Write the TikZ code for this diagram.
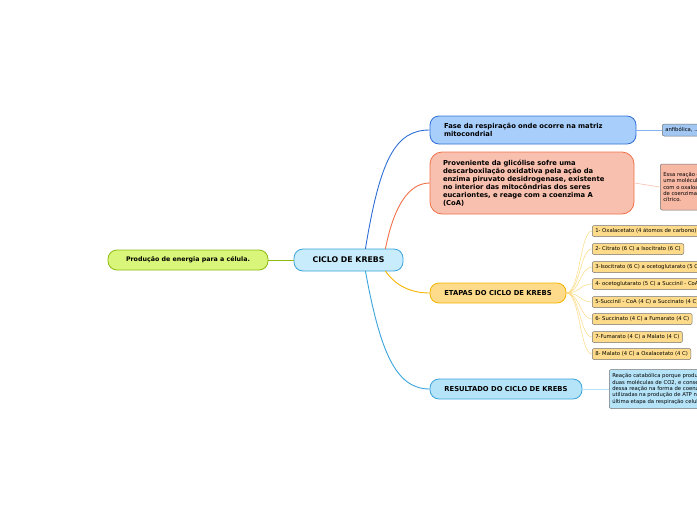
\documentclass[tikz,border=0pt]{standalone}
\usepackage{fontspec}
\setmainfont{DejaVu Sans}
\begin{document}
\begin{tikzpicture}[x=1pt,y=-1pt,
 big/.style={rounded corners=9pt,line width=0.8pt,font=\bfseries\fontsize{6.8}{8}\selectfont,inner sep=0pt},
 leaf/.style={rounded corners=2pt,draw=black!55,line width=0.5pt,anchor=west,font=\fontsize{5.3}{6.4}\selectfont,inner xsep=3pt,inner ysep=0pt,minimum height=11pt,align=left}]
\useasboundingbox (0,0) rectangle (697,520);
\clip (0,0) rectangle (697,520);
\definecolor{gfill}{HTML}{D9F57A}\definecolor{gdraw}{HTML}{8CBA10}
\definecolor{cfill}{HTML}{C8ECFC}\definecolor{cdraw}{HTML}{3AA3DB}
\definecolor{bfill}{HTML}{A8CFFC}\definecolor{bdraw}{HTML}{2F6FD6}
\definecolor{sfill}{HTML}{F8C0AE}\definecolor{sdraw}{HTML}{F07048}
\definecolor{yfill}{HTML}{FDDB8A}\definecolor{ydraw}{HTML}{F5B400}
\definecolor{rfill}{HTML}{B5E3F8}
\node[big,fill=gfill,draw=gdraw,minimum width=160pt,minimum height=20pt,font=\bfseries\fontsize{6.3}{7}\selectfont] (prod) at (188,260) {Produção de energia para a célula.};
\node[big,fill=cfill,draw=cdraw,minimum width=109pt,minimum height=22pt,font=\bfseries\fontsize{7.8}{8}\selectfont] (ck) at (348.5,260) {CICLO DE KREBS};
\node[big,fill=bfill,draw=bdraw,minimum width=206pt,minimum height=28pt,align=left,text width=178pt] (fase) at (533,130) {Fase da respiração onde ocorre na matriz\\mitocondrial};
\node[big,fill=sfill,draw=sdraw,minimum width=204pt,minimum height=62pt,align=left,text width=178pt,rounded corners=12pt] (prov) at (532,183) {Proveniente da glicólise sofre uma\\descarboxilação oxidativa pela ação da\\enzima piruvato desidrogenase, existente\\no interior das mitocôndrias dos seres\\eucariontes, e reage com a coenzima A\\(CoA)};
\node[big,fill=yfill,draw=ydraw,minimum width=136pt,minimum height=20pt] (et) at (498,293) {ETAPAS DO CICLO DE KREBS};
\node[big,fill=rfill,draw=cdraw,minimum width=152pt,minimum height=20pt] (res) at (506,389) {RESULTADO DO CICLO DE KREBS};
\draw[gdraw,line width=0.8pt] (prod.east) -- (ck.west);
\draw[bdraw,line width=0.9pt] (ck.east) ++(-38,-11) .. controls (380,160) and (395,130) .. (fase.west);
\draw[sdraw,line width=0.9pt] (ck.east) ++(-18,-11) .. controls (392,215) and (405,183) .. (prov.west);
\draw[ydraw,line width=0.9pt] (ck.east) ++(-18,11) .. controls (395,285) and (410,293) .. (et.west);
\draw[cdraw,line width=0.9pt] (ck.east) ++(-38,11) .. controls (380,350) and (395,389) .. (res.west);
\node[leaf,fill=bfill!80!black!20!bfill,minimum height=12pt] (anf) at (662,130) {anfibólica, ...};
\draw[bfill!70!bdraw,line width=0.6pt] (fase.east) -- (anf.west);
\node[leaf,fill=sfill!90!sdraw,minimum height=46pt] (essa) at (660,187) {Essa reação ocorre quando\\uma molécula de acetil-CoA se combina\\com o oxaloacetato, com liberação\\de coenzima A, formando o ácido\\cítrico.};
\draw[sfill,line width=0.6pt] (prov.east) -- (essa.west);
\foreach \i/\y/\t in {1/231/{1- Oxalacetato (4 átomos de carbono)},2/249/{2- Citrato (6 C) a Isocitrato (6 C)},3/267/{3-Isocitrato (6 C) a ocetoglutarato (5 C)},4/284/{4- ocetoglutarato (5 C) a Succinil - CoA (4 C)},5/302/{5-Succinil - CoA (4 C) a Succinato (4 C)},6/319/{6- Succinato (4 C) a Fumarato (4 C)},7/337/{7-Fumarato (4 C) a Malato (4 C)},8/354/{8- Malato (4 C) a Oxalacetato (4 C)}}{
 \node[leaf,fill=yfill] (s\i) at (592,\y) {\t};
 \draw[ydraw!50,line width=0.5pt] (et.east) .. controls (580,293) and (580,\y) .. (s\i.west);
}
\node[leaf,fill=rfill,minimum height=39pt] (rtx) at (609,389) {Reação catabólica porque produz\\duas moléculas de CO2, e conserva energia\\dessa reação na forma de coenzimas\\utilizadas na produção de ATP na\\última etapa da respiração celular.};
\draw[rfill,line width=0.6pt] (res.east) -- (rtx.west);
\end{tikzpicture}
\end{document}
